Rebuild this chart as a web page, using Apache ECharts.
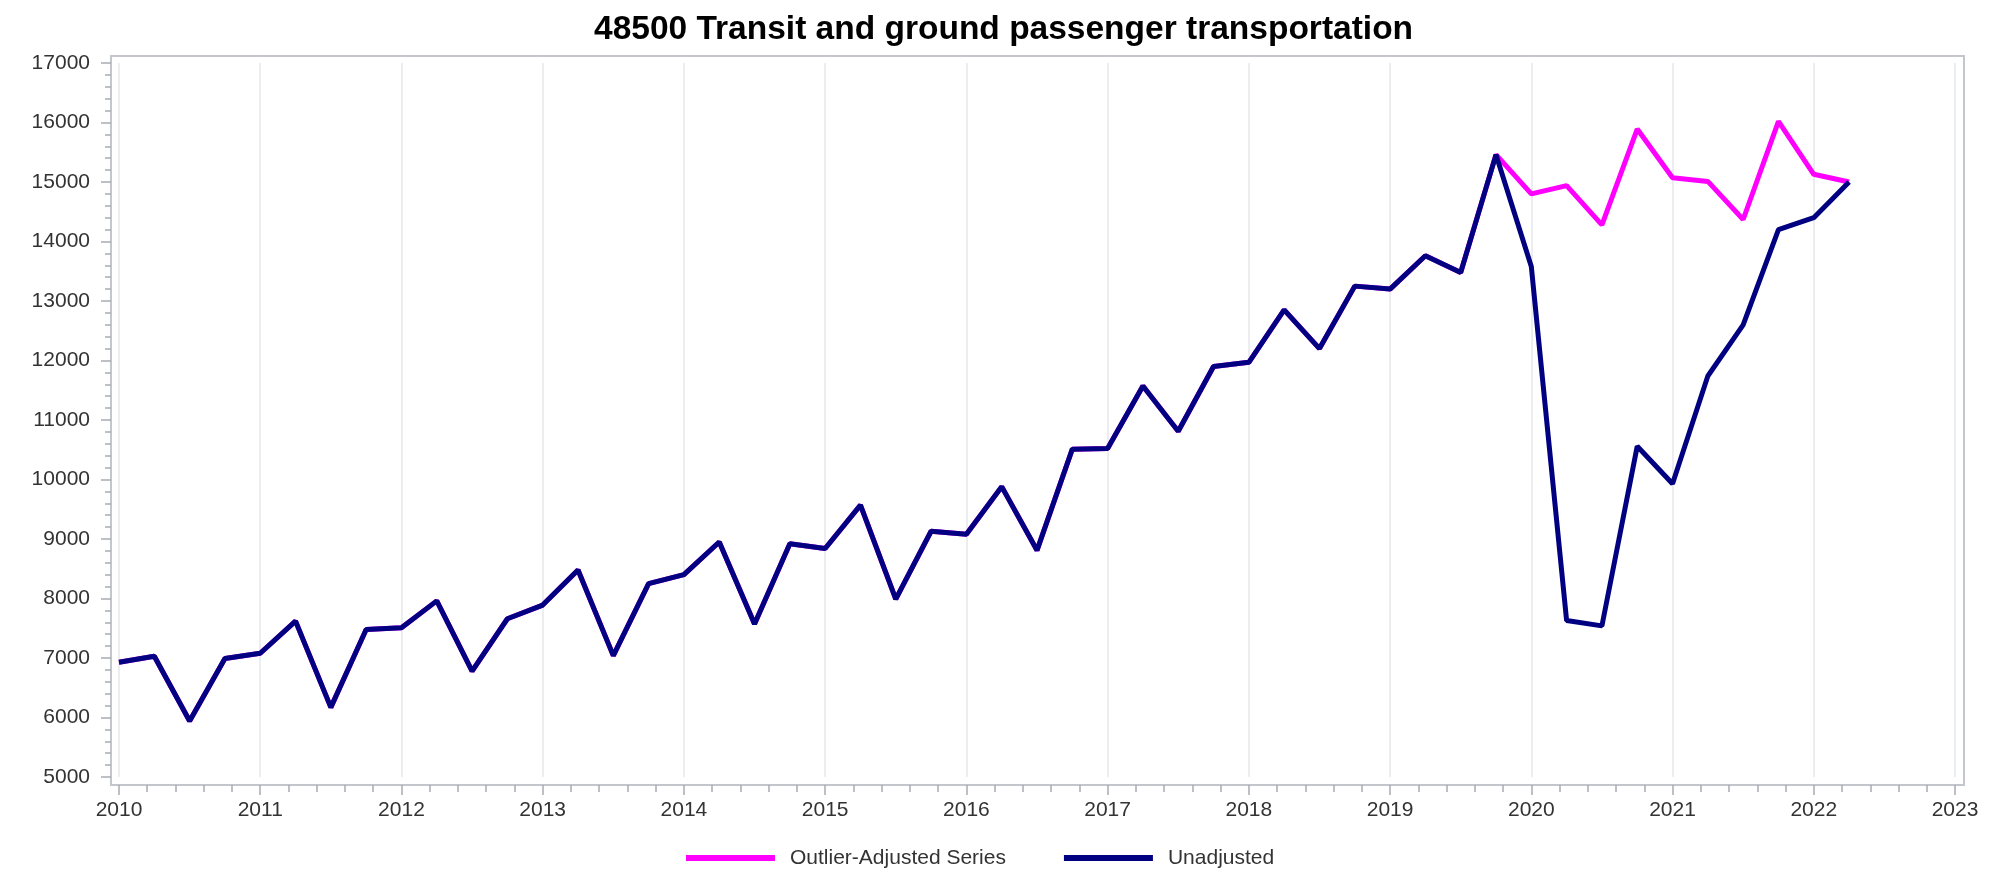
<!DOCTYPE html>
<html>
<head>
<meta charset="utf-8">
<title>48500 Transit and ground passenger transportation</title>
<script src="https://cdn.jsdelivr.net/npm/echarts@6/dist/echarts.min.js"></script>
<style>
  html, body { margin: 0; padding: 0; background: #fff; }
  #chart { width: 1993px; height: 870px; }
</style>
</head>
<body>
<div id="chart"></div>
<script>
  // quarters shown, as "year-quarter"
  const quarters = [
    '2010-1', '2010-2', '2010-3', '2010-4', '2011-1', '2011-2', '2011-3', '2011-4',
    '2012-1', '2012-2', '2012-3', '2012-4', '2013-1', '2013-2', '2013-3', '2013-4',
    '2014-1', '2014-2', '2014-3', '2014-4', '2015-1', '2015-2', '2015-3', '2015-4',
    '2016-1', '2016-2', '2016-3', '2016-4', '2017-1', '2017-2', '2017-3', '2017-4',
    '2018-1', '2018-2', '2018-3', '2018-4', '2019-1', '2019-2', '2019-3', '2019-4',
    '2020-1', '2020-2', '2020-3', '2020-4', '2021-1', '2021-2', '2021-3', '2021-4',
    '2022-1', '2022-2'
  ]
  const unadjusted = [
    6930, 7030, 5940, 6990, 7080, 7620, 6170, 7480,
    7510, 7960, 6780, 7660, 7890, 8480, 7040, 8250,
    8400, 8950, 7570, 8920, 8840, 9570, 7990, 9130,
    9080, 9880, 8810, 10510, 10520, 11570, 10810, 11900,
    11970, 12850, 12200, 13250, 13200, 13760, 13480, 15460,
    13580, 7630, 7540, 10560, 9930, 11740, 12600, 14200,
    14400, 15000
  ]
  // outlier adjusted values differ from 2020-1 on
  const adjustedTail = [14800, 14940, 14280, 15890, 15070, 15010, 14370, 16020, 15130, 15000]
  const adjusted = unadjusted.slice(0, 40).concat(adjustedTail)
  const yearTicks = [2010, 2011, 2012, 2013, 2014, 2015, 2016, 2017, 2018, 2019, 2020, 2021, 2022, 2023]
  const valueTicks = [5000, 6000, 7000, 8000, 9000, 10000, 11000, 12000, 13000, 14000, 15000, 16000, 17000]

  const font = 'Liberation Sans, Arial, Helvetica, sans-serif'
  const toYear = q => {
    const p = q.split('-')
    return Number(p[0]) + (Number(p[1]) - 1) / 4
  }
  const pairs = vals => quarters.map((q, i) => [toYear(q), vals[i]])

  const chart = echarts.init(document.getElementById('chart'))
  chart.setOption({
    backgroundColor: '#fff',
    animation: false,
    title: {
      text: '48500 Transit and ground passenger transportation',
      left: 589,
      top: 8,
      textStyle: { fontFamily: font, fontSize: 33.5, fontWeight: 'bold', color: '#000', lineHeight: 34 }
    },
    legend: {
      left: 681,
      top: 841,
      icon: 'rect',
      itemWidth: 89,
      itemHeight: 6,
      itemGap: 58,
      textStyle: { fontFamily: font, fontSize: 21, color: '#333', lineHeight: 24, padding: [0, 0, 0, 10] },
      data: ['Outlier-Adjusted Series', 'Unadjusted']
    },
    grid: [
      // data area
      { left: 119, right: 38, top: 63, bottom: 93 },
      // outer frame
      { left: 111, right: 29, top: 56, bottom: 85, show: true, borderColor: '#c3c7cc', borderWidth: 2, backgroundColor: 'transparent' }
    ],
    xAxis: [{
      type: 'value',
      gridIndex: 0,
      min: yearTicks[0],
      max: yearTicks[yearTicks.length - 1],
      interval: 1,
      offset: 8,
      axisLine: { show: false },
      axisTick: { show: true, length: 10, lineStyle: { color: '#a8adb3', width: 1.5 } },
      minorTick: { show: true, splitNumber: 5, length: 7, lineStyle: { color: '#a8adb3', width: 1.5 } },
      splitLine: { show: true, lineStyle: { color: '#e6e7eb', width: 1.5 } },
      axisLabel: {
        margin: 13, fontFamily: font, fontSize: 21, color: '#333', lineHeight: 24,
        formatter: v => String(v)
      }
    }, {
      type: 'value', gridIndex: 1, show: false
    }],
    yAxis: [{
      type: 'value',
      gridIndex: 0,
      min: valueTicks[0],
      max: valueTicks[valueTicks.length - 1],
      interval: 1000,
      offset: 8,
      axisLine: { show: false },
      axisTick: { show: true, length: 10, lineStyle: { color: '#a8adb3', width: 1.5 } },
      minorTick: { show: true, splitNumber: 5, length: 6, lineStyle: { color: '#a8adb3', width: 1.5 } },
      splitLine: { show: false },
      axisLabel: {
        margin: 21, fontFamily: font, fontSize: 21, color: '#333',
        formatter: v => String(v)
      }
    }, {
      type: 'value', gridIndex: 1, show: false
    }],
    series: [{
      name: 'Outlier-Adjusted Series',
      type: 'line',
      xAxisIndex: 0,
      yAxisIndex: 0,
      data: pairs(adjusted),
      showSymbol: false,
      symbol: 'none',
      color: '#ff00ff',
      lineStyle: { color: '#ff00ff', width: 5 }
    }, {
      name: 'Unadjusted',
      type: 'line',
      xAxisIndex: 0,
      yAxisIndex: 0,
      data: pairs(unadjusted),
      showSymbol: false,
      symbol: 'none',
      color: '#000080',
      lineStyle: { color: '#000080', width: 5 }
    }]
  })
</script>
</body>
</html>
